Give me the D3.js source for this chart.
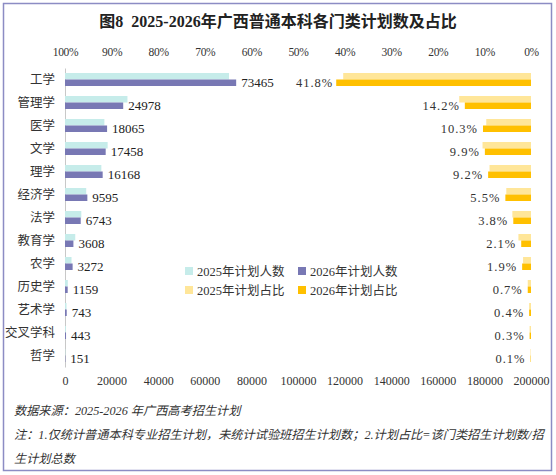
<!DOCTYPE html>
<html>
<head>
<meta charset="utf-8">
<script src="https://cdn.jsdelivr.net/npm/d3@7"></script>
<style>
  html, body { margin: 0; padding: 0; background: #fff; }
  svg { display: block; }
</style>
</head>
<body>
<main></main>
<script>
// categories and values
const categories = ["工学", "管理学", "医学", "文学", "理学", "经济学", "法学", "教育学", "农学", "历史学", "艺术学", "交叉学科", "哲学"];
const plan2025 = [70400, 26800, 16900, 18300, 15600, 9100, 7000, 4400, 2800, 1200, 650, 380, 150];
const plan2026 = [73465, 24978, 18065, 17458, 16168, 9595, 6743, 3608, 3272, 1159, 743, 443, 151];
const share2025 = [40.3, 15.4, 9.6, 10.4, 8.9, 5.3, 4.0, 2.7, 1.7, 0.7, 0.4, 0.3, 0.1];
const share2026 = [41.8, 14.2, 10.3, 9.9, 9.2, 5.5, 3.8, 2.1, 1.9, 0.7, 0.4, 0.3, 0.1];
const countTicks = [0, 20000, 40000, 60000, 80000, 100000, 120000, 140000, 160000, 180000, 200000];
const pctTicks = [100, 90, 80, 70, 60, 50, 40, 30, 20, 10, 0];

const width = 556;
const height = 475;
const plotLeft = 65, plotRight = 531, plotTop = 68, plotBottom = 367;

const serif = "'Liberation Serif', 'Times New Roman', 'Noto Sans CJK SC', serif";
const cjk = "'Liberation Serif', 'Noto Sans CJK SC', serif";

const svg = d3.select("main")
    .append("svg")
    .attr("width", width)
    .attr("height", height);

// frame
svg.append("rect")
    .attr("x", 3.5).attr("y", 3.5)
    .attr("width", 548).attr("height", 467)
    .attr("fill", "#fff")
    .attr("stroke", "#8c8cc4")
    .attr("stroke-width", 1.5);

// title
svg.append("text")
    .attr("x", 278)
    .attr("y", 27)
    .attr("text-anchor", "middle")
    .style("white-space", "pre")
    .style("font-family", cjk)
    .style("font-size", "16px")
    .style("font-weight", "bold")
    .attr("fill", "#222")
    .text("图8  2025-2026年广西普通本科各门类计划数及占比");

const xCount = d3.scaleLinear().domain([0, 200000]).range([plotLeft, plotRight]);
const xPct = d3.scaleLinear().domain([100, 0]).range([plotLeft, plotRight]);
const y = d3.scaleBand().domain(categories).range([plotTop, plotBottom]);
const inner = d3.scaleBand().domain(["a", "b"]).range([0, 13]);

// top axis (percent)
const topAxis = svg.append("g")
    .attr("transform", `translate(0, 56)`)
    .call(d3.axisTop(xPct).tickValues(pctTicks).tickSize(0).tickPadding(0).tickFormat(d => d + "%"));
topAxis.select(".domain").remove();
topAxis.selectAll("text")
    .style("font-family", serif)
    .style("font-size", "11.5px")
    .style("letter-spacing", "-0.3px")
    .attr("fill", "#333");

// bottom axis (count)
const bottomAxis = svg.append("g")
    .attr("transform", `translate(0, 376)`)
    .call(d3.axisBottom(xCount).tickValues(countTicks).tickSize(0).tickPadding(0).tickFormat(d => d));
bottomAxis.select(".domain").remove();
bottomAxis.selectAll("text")
    .style("font-family", serif)
    .style("font-size", "12px")
    .attr("fill", "#333");

// category axis
const leftAxis = svg.append("g")
    .attr("transform", `translate(${plotLeft}, 0)`)
    .call(d3.axisLeft(y).tickSize(0).tickPadding(10));
leftAxis.select(".domain").attr("stroke", "#c8c8c8");
leftAxis.selectAll("text")
    .style("font-family", cjk)
    .style("font-size", "12.5px")
    .attr("fill", "#333");

const rows = categories.map((c, i) => ({
    c, p25: plan2025[i], p26: plan2026[i], s25: share2025[i], s26: share2026[i]
}));
const y0 = d => y(d.c) + (y.bandwidth() - 13) / 2;

// count bars
svg.selectAll(".b25")
    .data(rows).enter().append("rect")
    .attr("x", xCount(0))
    .attr("y", d => y0(d) + inner("a"))
    .attr("width", d => xCount(d.p25) - xCount(0))
    .attr("height", inner.bandwidth())
    .attr("fill", "#c6ecea");

svg.selectAll(".b26")
    .data(rows).enter().append("rect")
    .attr("x", xCount(0))
    .attr("y", d => y0(d) + inner("b"))
    .attr("width", d => xCount(d.p26) - xCount(0))
    .attr("height", inner.bandwidth())
    .attr("fill", "#7878b4");

svg.selectAll(".l26")
    .data(rows).enter().append("text")
    .attr("x", d => xCount(d.p26) + 5)
    .attr("y", d => y0(d) + inner("b") + inner.bandwidth() / 2 + 4.5)
    .style("font-family", serif)
    .style("font-size", "13px")
    .attr("fill", "#222")
    .text(d => d.p26);

// share bars
svg.selectAll(".s25")
    .data(rows).enter().append("rect")
    .attr("x", d => xPct(d.s25))
    .attr("y", d => y0(d) + inner("a"))
    .attr("width", d => xPct(0) - xPct(d.s25))
    .attr("height", inner.bandwidth())
    .attr("fill", "#ffe699");

svg.selectAll(".s26")
    .data(rows).enter().append("rect")
    .attr("x", d => xPct(d.s26))
    .attr("y", d => y0(d) + inner("b"))
    .attr("width", d => xPct(0) - xPct(d.s26))
    .attr("height", inner.bandwidth())
    .attr("fill", "#ffc000");

svg.selectAll(".ls26")
    .data(rows).enter().append("text")
    .attr("x", d => xPct(d.s26) - (d.s26 > 30 ? 3 : 5))
    .attr("y", d => y0(d) + inner("b") + inner.bandwidth() / 2 + 4.5)
    .attr("text-anchor", "end")
    .style("font-family", serif)
    .style("font-size", "12.5px")
    .style("letter-spacing", "1px")
    .attr("fill", "#333")
    .text(d => d.s26.toFixed(1) + "%");

// legend
const legendItems = [
    { name: "2025年计划人数", color: "#c6ecea", x: 185, y: 271 },
    { name: "2026年计划人数", color: "#7878b4", x: 298, y: 271 },
    { name: "2025年计划占比", color: "#ffe699", x: 185, y: 290 },
    { name: "2026年计划占比", color: "#ffc000", x: 298, y: 290 }
];
const legend = svg.selectAll(".legend")
    .data(legendItems).enter().append("g")
    .attr("transform", d => `translate(${d.x}, ${d.y})`);
legend.append("rect")
    .attr("x", 0).attr("y", -4)
    .attr("width", 8).attr("height", 8)
    .attr("fill", d => d.color);
legend.append("text")
    .attr("x", 12)
    .attr("y", 4.5)
    .style("font-family", cjk)
    .style("font-size", "12.5px")
    .attr("fill", "#333")
    .text(d => d.name);

// footnotes
const notes = [
    { t: "数据来源：2025-2026 年广西高考招生计划", y: 415 },
    { t: "注：1.仅统计普通本科专业招生计划，未统计试验班招生计划数；2.计划占比=该门类招生计划数/招", y: 439 },
    { t: "生计划总数", y: 463 }
];
svg.selectAll(".note")
    .data(notes).enter().append("text")
    .attr("x", 14)
    .attr("y", d => d.y)
    .style("font-family", cjk)
    .style("font-size", "12.2px")
    .style("font-style", "italic")
    .attr("fill", "#333")
    .text(d => d.t);
</script>
</body>
</html>
